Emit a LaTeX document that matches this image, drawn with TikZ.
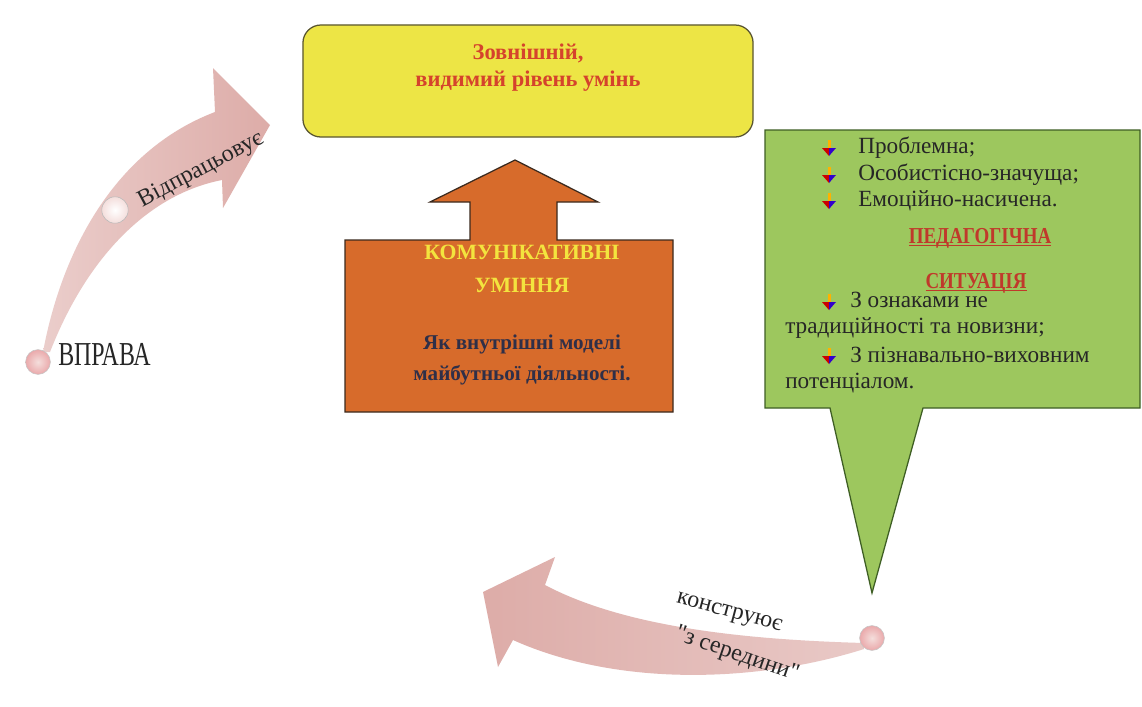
\documentclass[tikz,border=0pt]{standalone}
\usepackage{fontspec}
\setmainfont{Liberation Serif}[Ligatures=TeXOff]
\usetikzlibrary{positioning, shapes, arrows.meta, calc}

\definecolor{boxyellow}{HTML}{EDE545}
\definecolor{boxyellowline}{HTML}{5A5630}
\definecolor{titlered}{HTML}{D5432C}
\definecolor{arroworange}{HTML}{D76B2B}
\definecolor{arroworangeline}{HTML}{3B2A1E}
\definecolor{titleyellow}{HTML}{F3E43E}
\definecolor{darktext}{HTML}{2F2F48}
\definecolor{calloutgreen}{HTML}{9DC75E}
\definecolor{calloutline}{HTML}{3E5E24}
\definecolor{headred}{HTML}{C0392B}
\definecolor{pinkarrow}{HTML}{DDACA8}
\definecolor{pinklight}{HTML}{F4DEDC}
\definecolor{pinkdot}{HTML}{EAA9AB}

\tikzset{
  yellowbox/.style={draw=boxyellowline, fill=boxyellow, rounded corners=0.45cm,
    line width=0.9pt, minimum width=11.25cm, minimum height=2.8cm},
  yellowtext/.style={font=\fontsize{16}{18.5}\selectfont\bfseries, text=titlered,
    align=center, inner sep=0pt},
  orangearrow/.style={draw=arroworangeline, fill=arroworange, line width=0.9pt},
  skilltitle/.style={font=\fontsize{15.5}{23}\selectfont\bfseries, text=titleyellow,
    align=center, inner sep=0pt},
  skillbody/.style={font=\fontsize{15}{21.5}\selectfont\bfseries, text=darktext,
    align=center, inner sep=0pt},
  callout/.style={draw=calloutline, fill=calloutgreen, line width=0.9pt},
  greenline/.style={font=\fontsize{16.5}{19}\selectfont, text=black!85, inner sep=0pt},
  greenhead/.style={font=\fontsize{13.5}{16}\selectfont\bfseries, text=headred, inner sep=0pt},
  lbl/.style={font=\fontsize{17}{20}\selectfont, text=black!85, inner sep=0pt},
  pinkdotnode/.style={circle, minimum size=0.62cm, inner sep=0pt, draw=gray!45,
    inner color=pinklight, outer color=pinkdot},
  whitedotnode/.style={circle, minimum size=0.66cm, inner sep=0pt, draw=gray!55,
    inner color=white, outer color=pinklight},
  bulicon/.pic={
    \fill[orange!60!yellow] (-1.5,-8) rectangle (1.5,0);
    \fill[red!80!black] (-7,0) -- (0,0) -- (0,8) -- cycle;
    \fill[blue!60!violet] (0,0) -- (7,0) -- (0,8) -- cycle;
  }
}

\begin{document}
\begin{tikzpicture}[x=0.025cm, y=-0.025cm]
  \useasboundingbox (0,0) rectangle (1142,706);
  \fill[white] (0,0) rectangle (1142,706);

  % curved arrow on the left
  \shade[left color=pinkarrow!60!white, right color=pinkarrow]
    (43,352) .. controls (62,250) and (115,150) .. (215,112) -- (213,68) -- (270,125)
    -- (223,208) -- (222,180) .. controls (145,195) and (85,262) .. (50,352) -- cycle;
  % curved arrow at the bottom
  \shade[left color=pinkarrow, right color=pinkarrow!65!white]
    (864,643) .. controls (760,640) and (630,630) .. (545,585) -- (555,557) -- (483,592)
    -- (498,667) -- (513,640) .. controls (620,688) and (760,682) .. (864,649) -- cycle;

  \node[pinkdotnode] (start) at (38,362) {};
  \node[whitedotnode] (middot) at (115,210) {};
  \node[pinkdotnode] (enddot) at (872,638) {};

  \node[lbl, anchor=base west] (vprava) at (58,365) {\scalebox{1}[1.4]{ВПРАВА}};
  \node[lbl, rotate=28] (vidpr) at (201,170) {Відпрацьовує};
  \node[lbl, rotate=-15] (konstr) at (729,614) {конструює};
  \node[lbl, rotate=-19] (zser) at (737,655) {"з середини"};

  % top box
  \node[yellowbox] (outer) at (528,81) {};
  \node[yellowtext, anchor=base] (outertext) at (528,86) {Зовнішній,\\видимий рівень умінь};

  % block arrow
  \draw[orangearrow] (345,240) -- (470,240) -- (470,202) -- (430,202) -- (515,160)
    -- (598,202) -- (557,202) -- (557,240) -- (673,240) -- (673,412) -- (345,412) -- cycle;
  \node[skilltitle, anchor=base] (skills) at (522,292) {КОМУНІКАТИВНІ\\УМІННЯ};
  \node[skillbody, anchor=base] (models) at (522,380) {Як внутрішні моделі\\майбутньої діяльності.};

  % callout
  \draw[callout] (765,130) -- (1140,130) -- (1140,408) -- (923,408) -- (872,593)
    -- (830,408) -- (765,408) -- cycle;
  \foreach \y in {148,175,201,302,356}
    \pic at (829,\y) {bulicon};
  \node[greenline, anchor=base west] (p1) at (858,153) {Проблемна;};
  \node[greenline, anchor=base west] (p2) at (858,180) {Особистісно-значуща;};
  \node[greenline, anchor=base west] (p3) at (858,206) {Емоційно-насичена.};
  \node[greenhead, anchor=base] (ped) at (980,243) {\scalebox{1}[1.2]{\underline{\smash{ПЕДАГОГІЧНА}}}};
  \node[greenhead, anchor=base] (sit) at (976,288) {\scalebox{1}[1.2]{\underline{\smash{СИТУАЦІЯ}}}};
  \node[greenline, anchor=base west] (p4) at (850,307) {З ознаками не};
  \node[greenline, anchor=base west] (p4b) at (785,333) {традиційності та новизни;};
  \node[greenline, anchor=base west] (p5) at (850,362) {З пізнавально-виховним};
  \node[greenline, anchor=base west] (p5b) at (785,388) {потенціалом.};
\end{tikzpicture}
\end{document}
